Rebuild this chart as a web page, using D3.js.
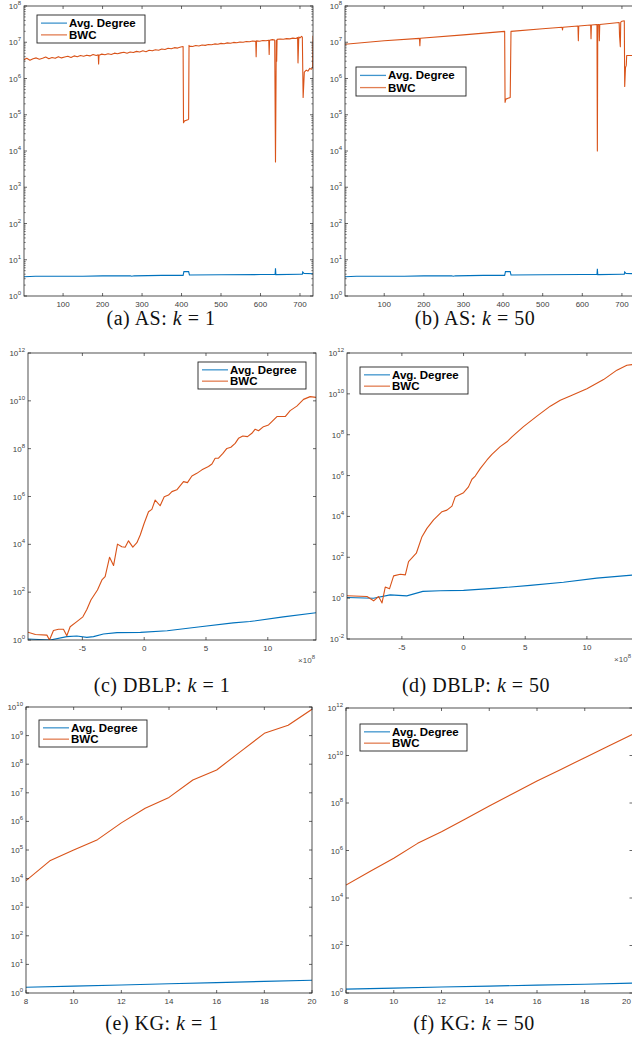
<!DOCTYPE html>
<html>
<head>
<meta charset="utf-8">
<script src="https://cdn.jsdelivr.net/npm/d3@7"></script>
<style>
  body { margin: 0; background: #fff; }
  svg { display: block; }
</style>
</head>
<body>
<div id="fig"></div>
<script>
// colours used by matlab for the two series
var blue = "#0072BD";
var orange = "#D95319";

// ---- data: [x, value] ----
// AS graph, k = 1
var asK1Deg = [[1,3.4],[30,3.5],[100,3.5],[150,3.5],[200,3.6],[270,3.6],[274,3.5],[280,3.6],[350,3.7],[404,3.7],[406,4.7],[418,4.7],[420,3.8],[500,3.85],[600,3.9],[637,3.9],[638,5.8],[639,3.9],[700,4.0],[706,4.0],[707,4.6],[710,4.2],[733,4.1]];
var asK1Bwc = [[1,3.3e6],[8,3.6e6],[16,3.2e6],[24,3.5e6],[32,3.7e6],[40,3.4e6],[48,3.6e6],[56,3.9e6],[64,3.5e6],[72,3.8e6],[80,3.6e6],[88,4.0e6],[96,3.7e6],[104,3.9e6],[112,4.1e6],[120,3.8e6],[128,4.2e6],[136,4.0e6],[144,4.3e6],[152,4.1e6],[160,4.4e6],[168,4.2e6],[176,4.6e6],[184,4.3e6],[189,4.5e6],[190,2.5e6],[191,4.4e6],[198,4.7e6],[206,4.5e6],[214,4.8e6],[222,4.6e6],[230,5.0e6],[238,4.8e6],[246,5.1e6],[254,5.3e6],[262,5.0e6],[270,5.4e6],[278,5.2e6],[286,5.6e6],[294,5.4e6],[302,5.8e6],[310,5.5e6],[318,6.0e6],[326,5.8e6],[334,6.2e6],[342,6.0e6],[350,6.5e6],[358,6.3e6],[366,6.8e6],[374,6.6e6],[382,7.1e6],[390,6.9e6],[398,7.4e6],[404,7.6e6],[405,6.0e4],[408,6.8e4],[412,7.0e4],[416,7.3e4],[418,7.6e4],[419,8.2e6],[420,7.8e6],[428,7.6e6],[436,8.1e6],[444,7.9e6],[452,8.4e6],[460,8.2e6],[468,8.7e6],[476,8.5e6],[484,9.0e6],[492,8.8e6],[500,9.3e6],[508,9.1e6],[516,9.6e6],[524,9.4e6],[532,9.9e6],[540,9.7e6],[548,1.02e7],[556,1.0e7],[564,1.05e7],[572,1.03e7],[580,1.08e7],[588,1.06e7],[589,4.0e6],[590,1.09e7],[598,1.07e7],[606,1.12e7],[614,1.1e7],[621,1.14e7],[622,4.6e6],[623,1.13e7],[630,1.18e7],[636,1.15e7],[638,5e3],[640,1.12e7],[641,3.0e6],[642,1.2e7],[650,1.23e7],[658,1.21e7],[666,1.26e7],[674,1.24e7],[682,1.3e7],[690,1.27e7],[694,1.35e7],[695,2.7e6],[697,1.4e7],[700,1.32e7],[704,1.45e7],[706,1.38e7],[708,3.0e5],[709,5.0e5],[711,1.5e6],[716,1.7e6],[720,1.6e6],[725,1.9e6],[729,1.8e6],[732,2.0e6],[733,1.5e7]];

// AS graph, k = 50
var asK50Deg = [[1,3.4],[30,3.5],[100,3.5],[150,3.5],[200,3.6],[270,3.6],[274,3.5],[280,3.6],[350,3.7],[404,3.7],[406,4.7],[418,4.7],[420,3.8],[500,3.85],[600,3.9],[637,3.9],[638,5.6],[639,3.9],[700,4.0],[706,4.0],[707,4.6],[710,4.2],[733,4.1]];
var asK50Bwc = [[1,8.8e6],[100,1.1e7],[189,1.28e7],[190,8e6],[191,1.29e7],[300,1.6e7],[404,2.0e7],[405,2.2e5],[407,2.7e5],[418,3.0e5],[420,2.0e7],[500,2.35e7],[549,2.6e7],[550,2.2e7],[551,2.6e7],[589,2.8e7],[590,1.1e7],[591,2.8e7],[621,3.0e7],[622,1.25e7],[623,3.0e7],[637,3.1e7],[638,1e4],[639,3.1e7],[642,3.1e7],[643,1.1e7],[644,3.1e7],[693,3.5e7],[694,1.5e7],[696,7.5e6],[697,3.6e7],[700,3.8e7],[706,3.9e7],[707,6e5],[709,2.0e6],[711,2.3e6],[712,4.3e6],[733,4.3e6]];

// DBLP, k = 1  (x in units of 1e8)
var dblpK1Deg = [[-9.4,1.1],[-7.6,1.0],[-6.26,1.38],[-5.45,1.48],[-4.64,1.29],[-4.1,1.38],[-3.3,1.78],[-2.2,2.04],[-0.3,2.09],[1.86,2.45],[4.54,3.6],[7.2,5.2],[8.55,5.9],[11.25,9.3],[13.9,13.8]];
var dblpK1Bwc = [[-9.4,2.1],[-8.8,1.7],[-7.87,1.6],[-7.66,1.0],[-7.34,2.5],[-6.93,2.8],[-6.53,2.8],[-6.26,1.5],[-5.99,3.6],[-5.45,5.9],[-4.96,9.3],[-4.64,19],[-4.31,47],[-3.78,123],[-3.42,324],[-3.16,447],[-2.8,2900],[-2.48,1300],[-2.16,10200],[-1.81,7900],[-1.54,7600],[-1.27,14000],[-0.92,7600],[-0.59,11700],[-0.32,24500],[0,76000],[0.35,2.3e5],[0.62,2.9e5],[0.89,7.1e5],[1.29,4.1e5],[1.62,9.8e5],[1.97,1.15e6],[2.24,1.6e6],[2.64,1.9e6],[3.18,4.2e6],[3.5,3.8e6],[3.86,7.2e6],[4.26,9.3e6],[4.67,1.3e7],[5.2,1.8e7],[5.48,2.3e7],[5.74,4e7],[6.01,4e7],[6.37,6.3e7],[6.69,1.02e8],[7.01,1.15e8],[7.36,1.66e8],[7.63,2.7e8],[7.98,3.4e8],[8.36,3.2e8],[8.71,4.4e8],[8.98,6.5e8],[9.25,5.6e8],[9.65,8.3e8],[10.06,9.8e8],[10.33,1.35e9],[10.74,2.2e9],[11.41,2.2e9],[11.81,3.9e9],[12.35,6e9],[12.89,1.15e10],[13.43,1.5e10],[13.9,1.4e10]];

// DBLP, k = 50
var dblpK50Deg = [[-9.45,1.07],[-7.3,0.98],[-5.95,1.45],[-4.6,1.29],[-3.3,2.14],[-1.9,2.29],[0,2.4],[2.7,3.1],[5.4,4.2],[8.1,6.0],[10.8,9.5],[13.9,13.8]];
var dblpK50Bwc = [[-9.45,1.3],[-7.83,1.2],[-7.29,0.74],[-6.89,1.2],[-6.61,0.58],[-6.35,3.5],[-6.0,2.9],[-5.67,12.3],[-5.13,14.8],[-4.72,13.8],[-4.46,62],[-3.83,158],[-3.37,1020],[-2.97,2600],[-2.43,6800],[-1.75,17000],[-1.35,20400],[-0.94,32000],[-0.67,93000],[0,1.45e5],[0.4,2.8e5],[0.68,6.6e5],[0.95,9.5e5],[1.35,2.2e6],[1.9,5.8e6],[2.3,1.1e7],[2.97,2.6e7],[3.52,4.5e7],[3.92,7.9e7],[4.86,2.5e8],[5.95,8.1e8],[7.03,2.5e9],[7.84,4.9e9],[8.65,7.9e9],[10.0,1.8e10],[11.35,5e10],[12.43,1.45e11],[13.24,2.5e11],[13.9,2.8e11]];

// KG, k = 1 and k = 50
var kgK1Deg = [[8,1.58],[10,1.74],[12,1.9],[14,2.1],[16,2.3],[18,2.55],[20,2.8]];
var kgK1Bwc = [[8,8500],[9,41700],[10,1e5],[11,2.3e5],[12,8.9e5],[13,2.9e6],[14,6.9e6],[15,2.8e7],[16,6.3e7],[17,2.75e8],[18,1.2e9],[19,2.3e9],[20,8.3e9]];
var kgK50Deg = [[8,1.45],[10,1.6],[12,1.78],[14,1.95],[16,2.15],[18,2.35],[20,2.6]];
var kgK50Bwc = [[8,3.5e4],[9,1.3e5],[10,4.7e5],[11,2e6],[12,6.2e6],[13,2.1e7],[14,7.4e7],[15,2.5e8],[16,8.5e8],[17,2.6e9],[18,8.1e9],[19,2.5e10],[20,7.8e10]];

// tick values
var asXTicks = [100, 200, 300, 400, 500, 600, 700];
var dblpXTicks = [-5, 0, 5, 10];
var kgXTicks = [8, 10, 12, 14, 16, 18, 20];
var legendLabels = ["Avg. Degree", "BWC"];

var W = 632;
var svg = d3.select("#fig").append("svg")
  .attr("width", W)
  .attr("height", 1039);

var axisCol = "#262626";
var sans = "Liberation Sans, Arial, sans-serif";

function drawPanel(p) {
  var x = d3.scaleLinear().domain(p.xDomain).range([p.left, p.right]);
  var y = d3.scaleLog().domain(p.yDomain).range([p.bottom, p.top]);

  var g = svg.append("g");
  var clipId = "clip" + p.id;
  g.append("clipPath").attr("id", clipId)
    .append("rect")
    .attr("x", p.left).attr("y", p.top)
    .attr("width", p.right - p.left).attr("height", p.bottom - p.top);

  var line = d3.line()
    .x(function(d) { return x(d[0]); })
    .y(function(d) { return y(d[1]); });

  var lines = g.append("g").attr("clip-path", "url(#" + clipId + ")");
  lines.append("path").datum(p.deg)
    .attr("d", line).attr("fill", "none")
    .attr("stroke", blue).attr("stroke-width", 1.1);
  lines.append("path").datum(p.bwc)
    .attr("d", line).attr("fill", "none")
    .attr("stroke", orange).attr("stroke-width", 1.1)
    .attr("stroke-linejoin", "round");

  // minor log ticks
  var lo = Math.round(Math.log10(p.yDomain[0])), hi = Math.round(Math.log10(p.yDomain[1]));
  if (p.minor) {
    var minors = [];
    for (var e = lo; e < hi; e++) for (var m = 2; m < 10; m++) minors.push(m * Math.pow(10, e));
    minors.forEach(function(v) {
      g.append("line").attr("x1", p.left).attr("x2", p.left + 1.7)
        .attr("y1", y(v)).attr("y2", y(v)).attr("stroke", axisCol).attr("stroke-width", 0.6);
      g.append("line").attr("x1", p.right).attr("x2", p.right - 1.7)
        .attr("y1", y(v)).attr("y2", y(v)).attr("stroke", axisCol).attr("stroke-width", 0.6);
    });
  }

  // major y ticks + labels
  for (var k = lo; k <= hi; k += p.yStep) {
    var yy = y(Math.pow(10, k));
    g.append("line").attr("x1", p.left).attr("x2", p.left + 3)
      .attr("y1", yy).attr("y2", yy).attr("stroke", axisCol).attr("stroke-width", 0.7);
    g.append("line").attr("x1", p.right).attr("x2", p.right - 3)
      .attr("y1", yy).attr("y2", yy).attr("stroke", axisCol).attr("stroke-width", 0.7);
    var t = g.append("text")
      .attr("x", p.left - 3).attr("y", yy + 3)
      .attr("text-anchor", "end")
      .attr("font-family", sans)
      .attr("font-size", 8).attr("fill", "#404040");
    t.append("tspan").text("10");
    t.append("tspan").attr("dy", -4).attr("font-size", 6).text(k);
  }

  // x ticks + labels
  p.xTicks.forEach(function(v) {
    var xx = x(v);
    g.append("line").attr("x1", xx).attr("x2", xx)
      .attr("y1", p.bottom).attr("y2", p.bottom - 3).attr("stroke", axisCol).attr("stroke-width", 0.7);
    g.append("line").attr("x1", xx).attr("x2", xx)
      .attr("y1", p.top).attr("y2", p.top + 3).attr("stroke", axisCol).attr("stroke-width", 0.7);
    // keep the label inside the page when the tick sits on its right edge
    var edge = xx + 6 > W;
    g.append("text").attr("x", edge ? W - 1 : xx).attr("y", p.bottom + 11)
      .attr("text-anchor", edge ? "end" : "middle")
      .attr("font-family", sans)
      .attr("font-size", 8).attr("fill", "#404040")
      .text(v);
  });

  // box
  g.append("rect")
    .attr("x", p.left).attr("y", p.top)
    .attr("width", p.right - p.left).attr("height", p.bottom - p.top)
    .attr("fill", "none").attr("stroke", axisCol).attr("stroke-width", 0.8);

  if (p.xExp) {
    var tx = g.append("text")
      .attr("x", Math.min(p.right - 1, W - 1)).attr("y", p.bottom + 23)
      .attr("text-anchor", "end")
      .attr("font-family", sans)
      .attr("font-size", 8).attr("fill", "#505050");
    tx.append("tspan").text("\u00d710");
    tx.append("tspan").attr("dy", -4).attr("font-size", 6).text(p.xExp);
  }

  // legend
  var L = p.legend;
  var lg = g.append("g").attr("transform", "translate(" + L.x + "," + L.y + ")");
  lg.append("rect").attr("width", L.w).attr("height", L.h)
    .attr("fill", "#fff").attr("stroke", "#222").attr("stroke-width", 0.9);
  [blue, orange].forEach(function(c, i) {
    var ry = L.h * (i === 0 ? 0.29 : 0.71);
    lg.append("line").attr("x1", 4).attr("x2", 30)
      .attr("y1", ry).attr("y2", ry)
      .attr("stroke", c).attr("stroke-width", 1.3).attr("opacity", 0.75);
    lg.append("text").attr("x", 32).attr("y", ry + 4)
      .attr("font-family", sans)
      .attr("font-weight", "bold").attr("font-size", 11.5).attr("fill", "#000")
      .text(legendLabels[i]);
  });

  // caption
  var cap = svg.append("text")
    .attr("x", p.capX).attr("y", p.capY)
    .attr("text-anchor", "middle")
    .attr("font-family", "Liberation Serif, Times New Roman, serif")
    .attr("font-size", 20).attr("letter-spacing", 0.5).attr("fill", "#111");
  cap.append("tspan").text(p.caption + ": ");
  cap.append("tspan").attr("font-style", "italic").text("k");
  cap.append("tspan").text(" = " + p.k);
}

drawPanel({ id: "a", left: 24, right: 313, top: 6, bottom: 296,
  xDomain: [1, 733], yDomain: [1, 1e8], yStep: 1, minor: true,
  xTicks: asXTicks, deg: asK1Deg, bwc: asK1Bwc,
  legend: { x: 37, y: 15, w: 108, h: 28 },
  caption: "(a) AS", k: 1, capX: 161, capY: 325 });

drawPanel({ id: "b", left: 345, right: 635, top: 6, bottom: 296,
  xDomain: [1, 733], yDomain: [1, 1e8], yStep: 1, minor: true,
  xTicks: asXTicks, deg: asK50Deg, bwc: asK50Bwc,
  legend: { x: 356, y: 67, w: 110, h: 29 },
  caption: "(b) AS", k: 50, capX: 475, capY: 325 });

drawPanel({ id: "c", left: 28, right: 316, top: 353, bottom: 640,
  xDomain: [-9.4, 13.9], yDomain: [1, 1e12], yStep: 2, minor: false,
  xTicks: dblpXTicks, deg: dblpK1Deg, bwc: dblpK1Bwc, xExp: 8,
  legend: { x: 198, y: 362, w: 108, h: 27 },
  caption: "(c) DBLP", k: 1, capX: 162, capY: 692 });

drawPanel({ id: "d", left: 347, right: 635, top: 353, bottom: 639,
  xDomain: [-9.45, 13.9], yDomain: [1e-2, 1e12], yStep: 2, minor: false,
  xTicks: dblpXTicks, deg: dblpK50Deg, bwc: dblpK50Bwc, xExp: 8,
  legend: { x: 360, y: 367, w: 108, h: 27 },
  caption: "(d) DBLP", k: 50, capX: 476, capY: 692 });

drawPanel({ id: "e", left: 26, right: 312, top: 707, bottom: 993,
  xDomain: [8, 20], yDomain: [1, 1e10], yStep: 1, minor: false,
  xTicks: kgXTicks, deg: kgK1Deg, bwc: kgK1Bwc,
  legend: { x: 39, y: 720, w: 108, h: 27 },
  caption: "(e) KG", k: 1, capX: 162, capY: 1030 });

drawPanel({ id: "f", left: 346, right: 632.5, top: 708, bottom: 993,
  xDomain: [8, 20], yDomain: [1, 1e12], yStep: 2, minor: false,
  xTicks: kgXTicks, deg: kgK50Deg, bwc: kgK50Bwc,
  legend: { x: 360, y: 724, w: 107, h: 27 },
  caption: "(f) KG", k: 50, capX: 474, capY: 1030 });
</script>
</body>
</html>
